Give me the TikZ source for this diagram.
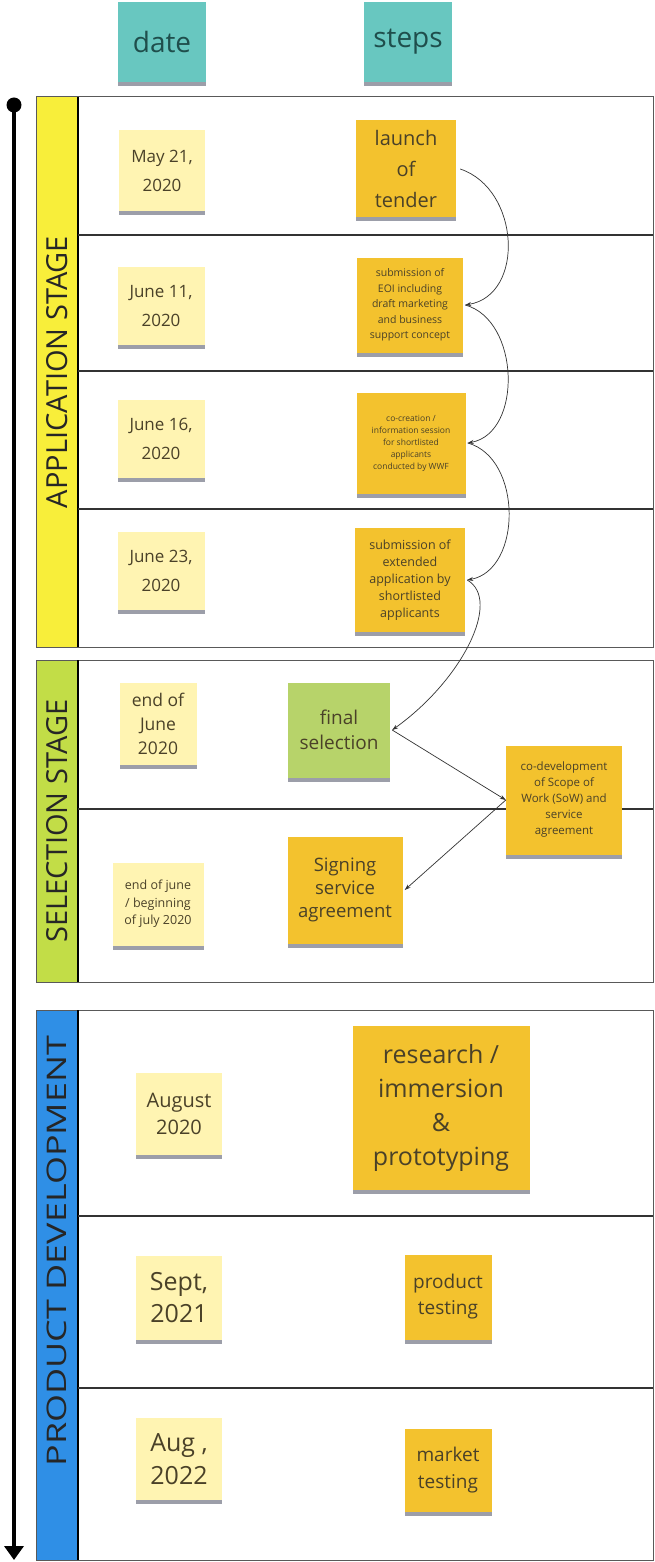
\documentclass[tikz,border=0pt]{standalone}
\usepackage{fontspec}
\usepackage{graphicx}
\setmainfont{Open Sans}
\usetikzlibrary{shadows,arrows.meta}
\definecolor{teal}{HTML}{68C7C0}
\definecolor{tealtext}{HTML}{1F4E4C}
\definecolor{paleyel}{HTML}{FFF4B2}
\definecolor{gold}{HTML}{F3C22E}
\definecolor{lime}{HTML}{B7D36A}
\definecolor{bandyel}{HTML}{F8EE3A}
\definecolor{bandgrn}{HTML}{C2DD47}
\definecolor{bandblu}{HTML}{2F8FE6}
\definecolor{notetext}{HTML}{4A4128}
\definecolor{shade}{HTML}{3A3F55}
\tikzset{
  sticky/.style={inner sep=1pt, align=center, text=notetext,
    drop shadow={shadow xshift=0pt, shadow yshift=-4pt, opacity=0.5, fill=shade}},
  datenote/.style={sticky, fill=paleyel},
  stepnote/.style={sticky, fill=gold},
  headnote/.style={sticky, fill=teal, text=tealtext},
  stagebox/.style={draw=black!65, line width=1pt},
  divider/.style={draw=black!80, line width=2pt},
  bandline/.style={draw=black, line width=1.5pt},
  stagelabel/.style={rotate=90, text=black!85},
  conn/.style={draw=black!80, line width=0.7pt, -{Stealth[length=6pt,width=4pt]}},
}
\newcommand{\fs}[2]{\fontsize{#1}{#2}\selectfont}
\begin{document}
\begin{tikzpicture}[x=1pt,y=-1pt]
\useasboundingbox (0,0) rectangle (655,1562);
\fill[white] (0,0) rectangle (655,1562);

% header notes
\node[headnote, minimum width=88, minimum height=80, font=\fs{28}{32}] (hdate) at (162,42) {date};
\node[headnote, minimum width=88, minimum height=80, font=\fs{28}{32}] (hsteps) at (408,42) {steps};

% stage boxes
\fill[bandyel] (36,97) rectangle (78,647);
\fill[bandgrn] (36,660) rectangle (78,982);
\fill[bandblu] (36,1010) rectangle (78,1560);
\draw[stagebox] (36,97) rectangle (653,647);
\draw[stagebox] (36,660) rectangle (653,982);
\draw[stagebox] (36,1010) rectangle (653,1560);
\draw[bandline] (78,97) -- (78,647);
\draw[bandline] (78,660) -- (78,982);
\draw[bandline] (78,1010) -- (78,1560);
\draw[divider] (78,235) -- (653,235);
\draw[divider] (78,371) -- (653,371);
\draw[divider] (78,509) -- (653,509);
\draw[divider] (78,809) -- (653,809);
\draw[divider, line width=1.4pt] (78,1216) -- (653,1216);
\draw[divider, line width=1.4pt] (78,1388) -- (653,1388);

\node[stagelabel, font=\fs{29}{32}] (lapp) at (57,372) {APPLICATION STAGE};
\node[stagelabel, font=\fs{29}{32}] (lsel) at (57,821) {SELECTION STAGE};
\node[stagelabel, font=\fs{27}{30}] (lprod) at (57,1251) {\scalebox{1.33}[1]{PRODUCT DEVELOPMENT}};

% timeline
\node[circle, fill=black, inner sep=0pt, minimum size=15] (dot) at (14,105) {};
\coordinate (tlend) at (14,1560);
\draw[line width=3.5pt, -{Triangle[length=14pt,width=19pt]}] (dot.center) -- (tlend);

% application stage notes
\node[datenote, minimum width=86, minimum height=81, font=\fs{17}{29}] (d1) at (162,171) {May 21,\\2020};
\node[stepnote, minimum width=100, minimum height=97, font=\fs{20}{31}] (s1) at (406,169) {launch\\of\\tender};
\node[datenote, minimum width=87, minimum height=78, font=\fs{17}{29}] (d2) at (161,306) {June 11,\\2020};
\node[stepnote, minimum width=106, minimum height=95, font=\fs{10.5}{15.5}] (s2) at (410,305) {submission of\\EOI including\\draft marketing\\and business\\support concept};
\node[datenote, minimum width=87, minimum height=78, font=\fs{17}{29}] (d3) at (161,439) {June 16,\\2020};
\node[stepnote, minimum width=109, minimum height=101, font=\fs{8.5}{12}] (s3) at (411,443) {co-creation /\\information session\\for shortlisted\\applicants\\conducted by WWF};
\node[datenote, minimum width=87, minimum height=78, font=\fs{17}{29}] (d4) at (161,571) {June 23,\\2020};
\node[stepnote, minimum width=110, minimum height=104, font=\fs{12.5}{17}] (s4) at (410,580) {submission of\\extended\\application by\\shortlisted\\applicants};

% selection stage notes
\node[datenote, minimum width=77, minimum height=82, font=\fs{17.5}{24}] (d5) at (158,724) {end of\\June\\2020};
\node[sticky, fill=lime, minimum width=102, minimum height=95, font=\fs{19}{25}] (s5) at (339,730) {final\\selection};
\node[stepnote, minimum width=116, minimum height=109, font=\fs{11.5}{16}] (s6) at (564,800) {co-development\\of Scope of\\Work (SoW) and\\service\\agreement};
\node[datenote, minimum width=91, minimum height=83, font=\fs{12.5}{17.5}] (d6) at (158,904) {end of june\\/ beginning\\of july 2020};
\node[stepnote, minimum width=115, minimum height=107, font=\fs{18.5}{23}] (s7) at (345,890) {Signing\\service\\agreement};

% product development notes
\node[datenote, minimum width=86, minimum height=82, font=\fs{20}{27}] (d7) at (179,1114) {August\\2020};
\node[stepnote, minimum width=177, minimum height=164, font=\fs{25}{34}] (s8) at (441,1108) {research /\\immersion\\\&\\prototyping};
\node[datenote, minimum width=86, minimum height=84, font=\fs{25}{32}] (d8) at (179,1298) {Sept,\\2021};
\node[stepnote, minimum width=87, minimum height=85, font=\fs{19}{26}] (s9) at (448,1297) {product\\testing};
\node[datenote, minimum width=86, minimum height=82, font=\fs{25}{33}] (d9) at (179,1459) {Aug ,\\2022};
\node[stepnote, minimum width=87, minimum height=83, font=\fs{19}{27}] (s10) at (448,1470) {market\\testing};

% connectors
\draw[conn] ([xshift=4pt]s1.east) .. controls +(60,20) and +(60,-10) .. ([xshift=2pt]s2.east);
\draw[conn] ([xshift=2pt]s2.east) .. controls +(55,15) and +(55,-10) .. ([xshift=2pt]s3.east);
\draw[conn] ([xshift=2pt]s3.east) .. controls +(55,15) and +(55,-10) .. ([xshift=2pt]s4.east);
\draw[conn] ([xshift=2pt]s4.east) .. controls +(35,20) and +(70,-50) .. ([xshift=2pt]s5.east);
\draw[conn] ([xshift=2pt]s5.east) -- (s6.west);
\draw[conn] (s6.west) -- ([xshift=2pt]s7.east);
\end{tikzpicture}
\end{document}
